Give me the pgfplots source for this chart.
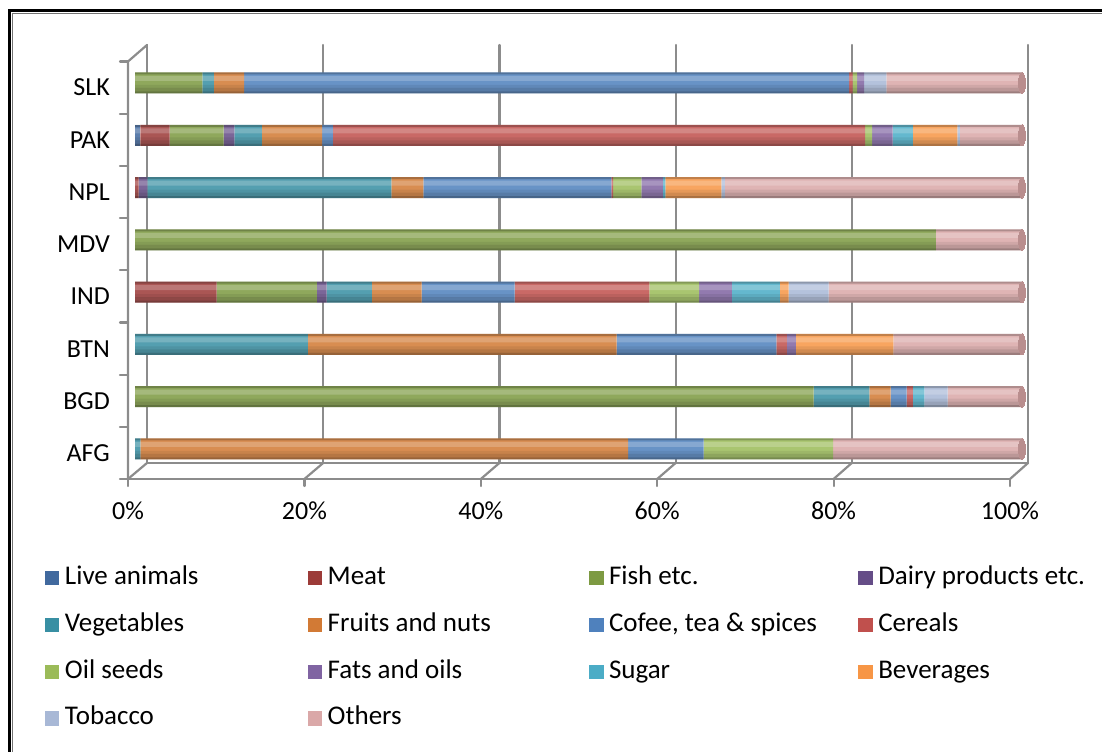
\documentclass[border=0pt]{standalone}
\usepackage{pgfplots}
\pgfplotsset{compat=1.18}
\usepackage{pgfplotstable}
\usepackage{fontspec}
\setmainfont{Carlito}

% segment colours
\definecolor{cLive}{HTML}{41699E}
\definecolor{cMeat}{HTML}{9C3B38}
\definecolor{cFish}{HTML}{7D9A42}
\definecolor{cDairy}{HTML}{654D87}
\definecolor{cVeg}{HTML}{388FA3}
\definecolor{cFruit}{HTML}{D27A35}
\definecolor{cCoffee}{HTML}{4F81BD}
\definecolor{cCereal}{HTML}{C0504D}
\definecolor{cOil}{HTML}{9BBB59}
\definecolor{cFats}{HTML}{8064A2}
\definecolor{cSugar}{HTML}{4BACC6}
\definecolor{cBev}{HTML}{F79646}
\definecolor{cTob}{HTML}{A8B8D6}
\definecolor{cOther}{HTML}{DAA8A8}
\definecolor{cCap}{HTML}{B98E8E}
\definecolor{wallgray}{HTML}{8C8C8C}

% share of each product group in exports (%), rows: AFG BGD BTN IND MDV NPL PAK SLK
\pgfplotstableread{
idx live meat fish dairy veg fruit coffee cereal oil fats sugar bev tobacco others
0 0   0   0    0   0.6  55.0 8.5  0    14.6 0   0   0    0   21.3
1 0   0   76.5 0   6.3  2.4  1.8  0.7  0    0   1.3 0    2.6 8.4
2 0   0   0    0   19.5 34.8 18.0 1.2  0    1.0 0   11.0 0   14.5
3 0   9.2 11.3 1.1 5.1  5.6  10.5 15.2 5.6  3.7 5.4 1.0  4.5 21.8
4 0   0   90.3 0   0    0    0    0    0    0   0   0    0   9.7
5 0   0.4 0    1.0 27.5 3.6  21.2 0.2  3.2  2.4 0.3 6.3  0.4 33.5
6 0.6 3.3 6.1  1.2 3.1  6.8  1.2  60.0 0.8  2.3 2.3 5.0  0.3 7.0
7 0   0   7.6  0   1.3  3.4  68.2 0.4  0.5  0.8 0   0    2.5 15.3
}\exports

% row totals (every row sums to 100 %)
\pgfplotstableread{
idx total
0 100
1 100
2 100
3 100
4 100
5 100
6 100
7 100
}\totals

\pgfplotsset{
  seg/.style={draw=none, fill=#1!86!white,
    legend image code/.code={\fill[#1] (0bp,-1bp) rectangle (14.5bp,13.5bp); \path (20bp,0bp);}},
  % common geometry of the bar axis and of the cylinder-shading overlay
  frame/.style={
    at={(126.13bp,276.86bp)}, anchor=south west,
    scale only axis, width=895.87bp, height=418.3bp,
    xmin=-1, xmax=100, ymin=-0.5, ymax=7.5},
  band/.style={xbar, draw=none, forget plot},
}
\newcommand\colA[1]{\makebox[242.7bp][l]{#1}}
\newcommand\colB[1]{\makebox[261.3bp][l]{#1}}
\newcommand\colC[1]{\makebox[249.3bp][l]{#1}}

\begin{document}
\begin{tikzpicture}[x=1bp,y=1bp]
\useasboundingbox (0,0) rectangle (1102,752);

% outer frame
\draw[line width=2.5bp, black] (9.5,0) -- (9.5,741.5) -- (1102,741.5);
\draw[line width=0.8bp, black!55] (12.6,0) -- (12.6,738.6) -- (1102,738.6);

% walls and floor
\begin{scope}[line width=2.2bp, wallgray, line cap=round, line join=round]
  \foreach \k in {0,...,5} {
    \draw (147+\k*176.2,289) -- (147+\k*176.2,707);
    \draw (128+\k*176.4,273) -- (147+\k*176.2,289);
    \draw (128+\k*176.4,273) -- (128+\k*176.4,266);
  }
  \draw (128,273) -- (1010,273);
  \draw (147,289) -- (1028,289);
  \draw (128,273) -- (128,690.5) -- (147,707);
  \foreach \j in {0,...,8} {
    \draw (120,690.5-\j*52.19) -- (128,690.5-\j*52.19);
  }
\end{scope}

\begin{axis}[
  frame,
  xbar stacked, bar width=21bp,
  axis line style={draw=none}, major tick length=0pt,
  xtick={-0.79,19.097,38.984,58.871,78.758,98.645},
  xticklabels={0\%,20\%,40\%,60\%,80\%,100\%},
  xticklabel style={anchor=center, yshift=-35.9bp, inner sep=0pt, font=\fontsize{26bp}{30bp}\selectfont},
  ytick={0,...,7},
  yticklabels={AFG,BGD,BTN,IND,MDV,NPL,PAK,SLK},
  yticklabel style={anchor=east, xshift=-16.1bp, yshift=-4.5bp, inner sep=0pt, font=\fontsize{26bp}{30bp}\selectfont},
  legend columns=4,
  legend style={at={(-0.09056,-0.21363)}, anchor=north west, draw=none, fill=none,
    inner sep=0pt, outer sep=0pt, column sep=0pt, row sep=20.8bp,
    font=\fontsize{27bp}{32bp}\selectfont,
    cells={anchor=base west},
    nodes={inner sep=0pt, outer sep=0pt, text height=20bp, text depth=6bp}},
]
\addplot[seg=cLive]   table[x=live,y=idx]{\exports};    \addlegendentry{\colA{Live animals}}
\addplot[seg=cMeat]   table[x=meat,y=idx]{\exports};    \addlegendentry{\colB{Meat}}
\addplot[seg=cFish]   table[x=fish,y=idx]{\exports};    \addlegendentry{\colC{Fish etc.}}
\addplot[seg=cDairy]  table[x=dairy,y=idx]{\exports};   \addlegendentry{Dairy products etc.}
\addplot[seg=cVeg]    table[x=veg,y=idx]{\exports};     \addlegendentry{\colA{Vegetables}}
\addplot[seg=cFruit]  table[x=fruit,y=idx]{\exports};   \addlegendentry{\colB{Fruits and nuts}}
\addplot[seg=cCoffee] table[x=coffee,y=idx]{\exports};  \addlegendentry{\colC{Cofee, tea \& spices}}
\addplot[seg=cCereal] table[x=cereal,y=idx]{\exports};  \addlegendentry{Cereals}
\addplot[seg=cOil]    table[x=oil,y=idx]{\exports};     \addlegendentry{\colA{Oil seeds}}
\addplot[seg=cFats]   table[x=fats,y=idx]{\exports};    \addlegendentry{\colB{Fats and oils}}
\addplot[seg=cSugar]  table[x=sugar,y=idx]{\exports};   \addlegendentry{\colC{Sugar}}
\addplot[seg=cBev]    table[x=bev,y=idx]{\exports};     \addlegendentry{Beverages}
\addplot[seg=cTob]    table[x=tobacco,y=idx]{\exports}; \addlegendentry{\colA{Tobacco}}
\addplot[seg=cOther]  table[x=others,y=idx]{\exports};  \addlegendentry{\colB{Others}}
\end{axis}

% cylinder shading laid over the full length of every bar, and the end caps
\begin{axis}[frame, hide axis]
\addplot[band, bar width=2bp,   bar shift=9.5bp,   fill=black, fill opacity=0.22] table[x=total,y=idx]{\totals};
\addplot[band, bar width=5bp,   bar shift=4.5bp,   fill=white, fill opacity=0.20] table[x=total,y=idx]{\totals};
\addplot[band, bar width=3bp,   bar shift=-3.5bp,  fill=black, fill opacity=0.07] table[x=total,y=idx]{\totals};
\addplot[band, bar width=3.5bp, bar shift=-6.75bp, fill=black, fill opacity=0.16] table[x=total,y=idx]{\totals};
\addplot[band, bar width=2bp,   bar shift=-9.5bp,  fill=black, fill opacity=0.30] table[x=total,y=idx]{\totals};
\addplot[only marks, forget plot, draw=cCap, fill=cCap, mark=*, mark size=10.5bp,
  mark options={xscale=0.33, draw=cCap, fill=cCap, line width=0pt}] table[x=total,y=idx]{\totals};
\end{axis}
\end{tikzpicture}
\end{document}
